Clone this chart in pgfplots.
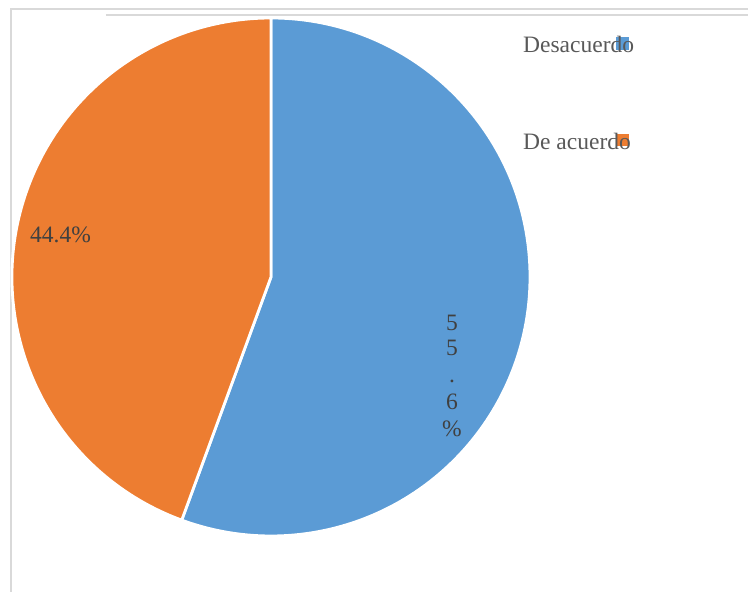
\documentclass[border=0pt]{standalone}
\usepackage{pgfplots}
\usepackage{pgfplotstable}
\pgfplotsset{compat=1.18}
\usepackage{fontspec}
\setmainfont{Liberation Serif}
\definecolor{cblue}{HTML}{5B9BD5}
\definecolor{corange}{HTML}{ED7D31}
\definecolor{txt}{HTML}{404040}
\definecolor{leg}{HTML}{595959}
\definecolor{frame}{HTML}{D9D9D9}
\pgfplotstableread{
label value
Desacuerdo 55.6
Deacuerdo 44.4
}\piedata
\pgfplotstablegetelem{0}{value}\of\piedata
\pgfmathsetmacro{\va}{\pgfplotsretval}
\pgfplotstablegetelem{1}{value}\of\piedata
\pgfmathsetmacro{\vb}{\pgfplotsretval}
\pgfmathsetmacro{\ea}{90-3.6*\va}
\pgfmathsetmacro{\eb}{\ea-3.6*\vb}
\tikzset{lab/.style={inner sep=0pt, text=txt, font=\fontsize{23.5}{26}\selectfont}}
\begin{document}%
\begin{tikzpicture}
\begin{axis}[
  at={(0,0)}, anchor=south west,
  scale only axis, width=748pt, height=592pt,
  xmin=0, xmax=748, ymin=0, ymax=592,
  hide axis, clip=false,
]
% frame
\draw[frame, line width=1.5pt] (axis cs:11,0) -- (axis cs:11,583) -- (axis cs:748,583);
\draw[frame, line width=1.5pt] (axis cs:106,577) -- (axis cs:748,577);
% slices
\fill[cblue, draw=white, line width=2.8pt, line join=round]
  (axis cs:271,315) -- ++(90:259pt) arc[start angle=90, end angle=\ea, radius=259pt] -- cycle;
\fill[corange, draw=white, line width=2.8pt, line join=round]
  (axis cs:271,315) -- ++(\ea:259pt) arc[start angle=\ea, end angle=\eb, radius=259pt] -- cycle;
% labels
\node[lab, anchor=base west] at (axis cs:30,349) {44.4\%};
\node[lab, anchor=base] at (axis cs:452,261) {5};
\node[lab, anchor=base] at (axis cs:452,236) {5};
\node[lab, anchor=base] at (axis cs:452,209) {.};
\node[lab, anchor=base] at (axis cs:452,182) {6};
\node[lab, anchor=base] at (axis cs:452,155) {\%};
% legend
\fill[cblue] (axis cs:616,542) rectangle (axis cs:629,555);
\node[lab, text=leg, anchor=base west] at (axis cs:523,539) {Desacuerdo};
\fill[corange] (axis cs:617,446) rectangle (axis cs:629,458);
\node[lab, text=leg, anchor=base west] at (axis cs:523,442) {De acuerdo};
\end{axis}
\pgfresetboundingbox
\path[use as bounding box] (0,0) rectangle (748pt,592pt);
\end{tikzpicture}%
\end{document}
